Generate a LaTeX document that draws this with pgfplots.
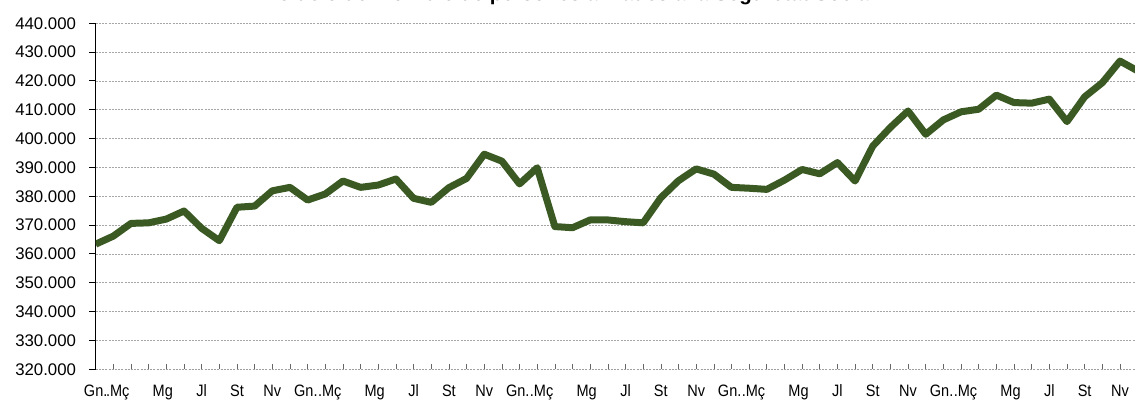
\documentclass[border=0pt]{standalone}
\usepackage{fontspec}
\setmainfont{Liberation Sans}
\usepackage{graphicx}
\usepackage{pgfplots}
\pgfplotsset{compat=1.18}
\definecolor{lineGreen}{HTML}{3B5A23}
\newcommand\xl[1]{\scalebox{0.88}[1]{#1}}
\begin{document}
\begin{tikzpicture}
\begin{axis}[
  at={(95.7bp,36.7bp)}, anchor=south west,
  scale only axis, width=1039.3bp, height=346bp,
  xmin=0, xmax=58.85, ymin=320000, ymax=440000,
  axis x line*=bottom, axis y line*=left,
  xtick pos=left, ytick pos=left,
  x axis line style={-, draw=gray!75, line width=0.7bp, dash pattern=on 2bp off 1.2bp},
  y axis line style={-, draw=black, line width=1.1bp},
  xtick={0,1.25,3.8,6,8,10,11.9,13.25,15.8,18,20,22,23.9,25.25,27.8,30,32,34,35.9,37.25,39.8,42,44,46,47.9,49.25,51.8,54,56,58},
  xticklabels={\xl{Gn.},\xl{.Mç},\xl{Mg},\xl{Jl},\xl{St},\xl{Nv},
               \xl{Gn.},\xl{.Mç},\xl{Mg},\xl{Jl},\xl{St},\xl{Nv},
               \xl{Gn.},\xl{.Mç},\xl{Mg},\xl{Jl},\xl{St},\xl{Nv},
               \xl{Gn.},\xl{.Mç},\xl{Mg},\xl{Jl},\xl{St},\xl{Nv},
               \xl{Gn.},\xl{.Mç},\xl{Mg},\xl{Jl},\xl{St},\xl{Nv}},
  major x tick style={draw=none},
  minor xtick={0,1,...,58},
  minor tick length=5bp,
  minor x tick style={draw=gray!80!black, line width=0.6bp},
  ytick={320000,330000,...,440000},
  major tick length=6.3bp,
  major y tick style={draw=black, line width=1bp, xshift=-6.3bp},
  scaled y ticks=false,
  /pgf/number format/fixed,
  /pgf/number format/precision=0,
  /pgf/number format/1000 sep={.},
  /pgf/number format/assume math mode=true,
  yticklabel style={font=\fontsize{16.8bp}{18bp}\selectfont, anchor=east, inner sep=0pt, xshift=-19.5bp, text=black},
  xticklabel style={font=\fontsize{16.5bp}{18bp}\selectfont, anchor=north, inner sep=0pt, yshift=-15.5bp, text=black},
  ymajorgrids,
  major grid style={draw=gray!70, line width=0.7bp, dash pattern=on 2bp off 1.2bp},
]
\addplot[lineGreen, line width=7bp, line join=round, mark=none] coordinates {
(0,363400) (1,366200) (2,370600) (3,370800) (4,372100) (5,374900)
(6,368900) (7,364600) (8,376200) (9,376600) (10,381900) (11,383100)
(12,378700) (13,380800) (14,385300) (15,383100) (16,383900) (17,386000)
(18,379300) (19,377900) (20,383000) (21,386200) (22,394600) (23,392200)
(24,384300) (25,389900) (26,369500) (27,369100) (28,371800) (29,371800)
(30,371200) (31,370800) (32,379500) (33,385400) (34,389500) (35,387700)
(36,383100) (37,382800) (38,382400) (39,385600) (40,389300) (41,387800)
(42,391700) (43,385300) (44,397400) (45,403900) (46,409600) (47,401500)
(48,406500) (49,409300) (50,410200) (51,415100) (52,412500) (53,412300)
(54,413700) (55,405900) (56,414500) (57,419400) (58,426900) (59,423500)
};
\end{axis}
\node[font=\bfseries\fontsize{20.5bp}{24bp}\selectfont, anchor=base] at (564bp,405bp) {Evolució del nombre de persones afiliades a la Seguretat Social};
\pgfresetboundingbox
\useasboundingbox (0,0) rectangle (1135bp,406bp);
\end{tikzpicture}
\end{document}
